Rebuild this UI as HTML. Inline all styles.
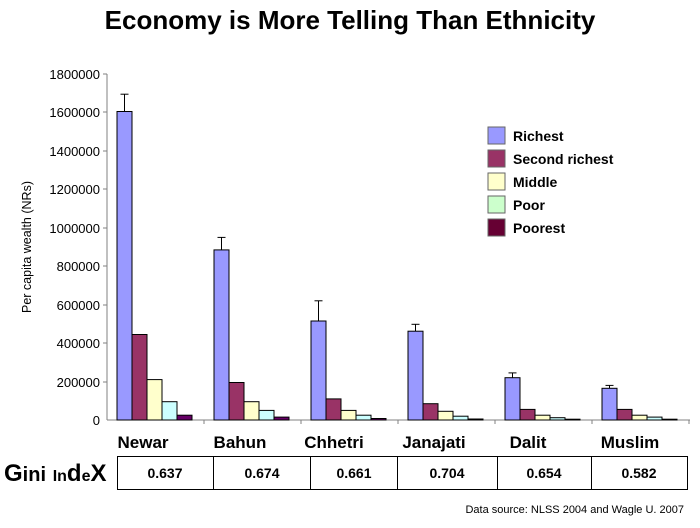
<!DOCTYPE html>
<html><head><meta charset="utf-8"><style>body{margin:0;background:#fff}</style></head><body>
<svg width="700" height="523" xmlns="http://www.w3.org/2000/svg" font-family="Liberation Sans, Arial, sans-serif">
<rect width="700" height="523" fill="#fff"/>
<text x="350" y="29" text-anchor="middle" font-size="26" font-weight="bold">Economy is More Telling Than Ethnicity</text>
<text transform="translate(31,247) rotate(-90)" text-anchor="middle" font-size="12.5">Per capita wealth (NRs)</text>
<g font-size="13" text-anchor="end">
<text x="100" y="79">1800000</text><text x="100" y="117">1600000</text><text x="100" y="156">1400000</text>
<text x="100" y="194">1200000</text><text x="100" y="233">1000000</text><text x="100" y="271">800000</text>
<text x="100" y="310">600000</text><text x="100" y="348">400000</text><text x="100" y="387">200000</text>
<text x="100" y="425">0</text>
</g>
<g stroke="#808080" stroke-width="1">
<line x1="107" y1="74" x2="107" y2="420"/><line x1="107" y1="420" x2="690" y2="420"/>
<line x1="103" y1="74" x2="107" y2="74"/><line x1="103" y1="112" x2="107" y2="112"/><line x1="103" y1="151" x2="107" y2="151"/>
<line x1="103" y1="189" x2="107" y2="189"/><line x1="103" y1="228" x2="107" y2="228"/><line x1="103" y1="266" x2="107" y2="266"/>
<line x1="103" y1="305" x2="107" y2="305"/><line x1="103" y1="343" x2="107" y2="343"/><line x1="103" y1="382" x2="107" y2="382"/>
<line x1="204" y1="420" x2="204" y2="424"/><line x1="301" y1="420" x2="301" y2="424"/><line x1="398" y1="420" x2="398" y2="424"/>
<line x1="495" y1="420" x2="495" y2="424"/><line x1="592" y1="420" x2="592" y2="424"/><line x1="689" y1="420" x2="689" y2="424"/>
</g>
<g stroke="#000" stroke-width="1">
<!-- Newar -->
<rect x="117" y="111.5" width="15" height="308.5" fill="#9999ff"/>
<rect x="132" y="334.5" width="15" height="85.5" fill="#993366"/>
<rect x="147" y="379.6" width="15" height="40.4" fill="#ffffcc"/>
<rect x="162" y="401.7" width="15" height="18.3" fill="#ccffff"/>
<rect x="177" y="415.2" width="15" height="4.8" fill="#660066"/>
<line x1="124.5" y1="111.5" x2="124.5" y2="94.2"/><line x1="120.5" y1="94.2" x2="128.5" y2="94.2"/>
<!-- Bahun -->
<rect x="214" y="249.9" width="15" height="170.1" fill="#9999ff"/>
<rect x="229" y="382.5" width="15" height="37.5" fill="#993366"/>
<rect x="244" y="401.7" width="15" height="18.3" fill="#ffffcc"/>
<rect x="259" y="410.4" width="15" height="9.6" fill="#ccffff"/>
<rect x="274" y="417.1" width="15" height="2.9" fill="#660066"/>
<line x1="221.5" y1="249.9" x2="221.5" y2="237.4"/><line x1="217.5" y1="237.4" x2="225.5" y2="237.4"/>
<!-- Chhetri -->
<rect x="311" y="321" width="15" height="99" fill="#9999ff"/>
<rect x="326" y="398.9" width="15" height="21.1" fill="#993366"/>
<rect x="341" y="410.4" width="15" height="9.6" fill="#ffffcc"/>
<rect x="356" y="415.2" width="15" height="4.8" fill="#ccffff"/>
<rect x="371" y="418.5" width="15" height="1.5" fill="#660066"/>
<line x1="318.5" y1="321" x2="318.5" y2="300.8"/><line x1="314.5" y1="300.8" x2="322.5" y2="300.8"/>
<!-- Janajati -->
<rect x="408" y="331.2" width="15" height="88.8" fill="#9999ff"/>
<rect x="423" y="403.7" width="15" height="16.3" fill="#993366"/>
<rect x="438" y="411.3" width="15" height="8.7" fill="#ffffcc"/>
<rect x="453" y="416.2" width="15" height="3.8" fill="#ccffff"/>
<rect x="468" y="419" width="15" height="1" fill="#660066"/>
<line x1="415.5" y1="331.2" x2="415.5" y2="324.3"/><line x1="411.5" y1="324.3" x2="419.5" y2="324.3"/>
<!-- Dalit -->
<rect x="505" y="377.7" width="15" height="42.3" fill="#9999ff"/>
<rect x="520" y="409.4" width="15" height="10.6" fill="#993366"/>
<rect x="535" y="415.2" width="15" height="4.8" fill="#ffffcc"/>
<rect x="550" y="417.7" width="15" height="2.3" fill="#ccffff"/>
<rect x="565" y="419.2" width="15" height="0.8" fill="#660066"/>
<line x1="512.5" y1="377.7" x2="512.5" y2="372.9"/><line x1="508.5" y1="372.9" x2="516.5" y2="372.9"/>
<!-- Muslim -->
<rect x="602" y="388.3" width="15" height="31.7" fill="#9999ff"/>
<rect x="617" y="409.4" width="15" height="10.6" fill="#993366"/>
<rect x="632" y="415.2" width="15" height="4.8" fill="#ffffcc"/>
<rect x="647" y="417.1" width="15" height="2.9" fill="#ccffff"/>
<rect x="662" y="419.2" width="15" height="0.8" fill="#660066"/>
<line x1="609.5" y1="388.3" x2="609.5" y2="385.4"/><line x1="605.5" y1="385.4" x2="613.5" y2="385.4"/>
</g>
<g font-size="14" font-weight="bold">
<rect x="488" y="127" width="17" height="17" fill="#9999ff" stroke="#666"/><text x="513" y="141">Richest</text>
<rect x="488" y="150" width="17" height="17" fill="#993366" stroke="#666"/><text x="513" y="164">Second richest</text>
<rect x="488" y="173" width="17" height="17" fill="#ffffcc" stroke="#666"/><text x="513" y="187">Middle</text>
<rect x="488" y="196" width="17" height="17" fill="#ccffcc" stroke="#666"/><text x="513" y="210">Poor</text>
<rect x="488" y="219" width="17" height="17" fill="#660033" stroke="#666"/><text x="513" y="233">Poorest</text>
</g>
<g font-size="17" font-weight="bold" text-anchor="middle">
<text x="143" y="448">Newar</text><text x="240" y="448">Bahun</text><text x="334" y="448">Chhetri</text>
<text x="434" y="448">Janajati</text><text x="528" y="448">Dalit</text><text x="630" y="448">Muslim</text>
</g>
<text x="4" y="481" font-size="24" font-weight="bold">G<tspan font-size="20">ini</tspan> <tspan font-size="16">In</tspan>d<tspan font-size="16">e</tspan>X</text>
<rect x="117.5" y="456.5" width="570" height="33" fill="none" stroke="#000"/>
<g stroke="#000"><line x1="213.5" y1="456" x2="213.5" y2="490"/><line x1="310.5" y1="456" x2="310.5" y2="490"/>
<line x1="397.5" y1="456" x2="397.5" y2="490"/><line x1="497.5" y1="456" x2="497.5" y2="490"/><line x1="591.5" y1="456" x2="591.5" y2="490"/></g>
<g font-size="14" font-weight="bold" text-anchor="middle">
<text x="165" y="478">0.637</text><text x="262" y="478">0.674</text><text x="354" y="478">0.661</text>
<text x="447" y="478">0.704</text><text x="544" y="478">0.654</text><text x="639" y="478">0.582</text>
</g>
<text x="684" y="513" text-anchor="end" font-size="11">Data source: NLSS 2004 and Wagle U. 2007</text>
</svg>
</body></html>
